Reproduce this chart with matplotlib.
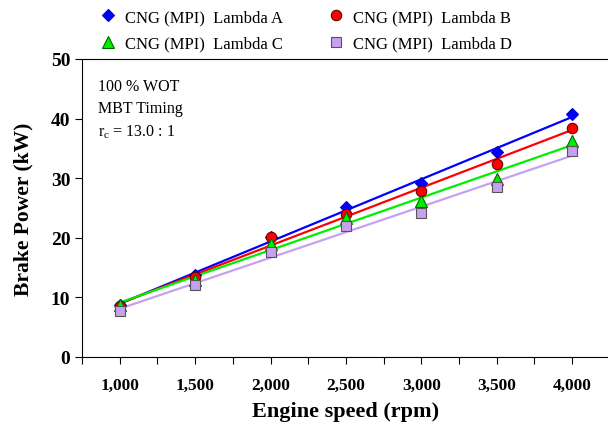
#importando bibliotecas
import matplotlib.pyplot as plt
import numpy as np
from matplotlib.ticker import MultipleLocator

plt.rcParams['font.family'] = ['Liberation Serif', 'DejaVu Serif']

#dados
rotacao = [1000, 1500, 2000, 2500, 3000, 3500, 4000]
lambdaA = [8.7, 13.8, 20.2, 25.2, 29.2, 34.4, 40.7]
lambdaB = [8.5, 13.4, 20.1, 24.0, 27.9, 32.4, 38.5]
lambdaC = [8.8, 13.0, 19.0, 23.3, 26.2, 29.9, 36.2]
lambdaD = [7.8, 12.0, 17.6, 22.0, 24.1, 28.6, 34.5]
rotulosx = ['1,000', '1,500', '2,000', '2,500', '3,000', '3,500', '4,000']
nomes = ['CNG (MPI)  Lambda A', 'CNG (MPI)  Lambda B', 'CNG (MPI)  Lambda C', 'CNG (MPI)  Lambda D']

series = [lambdaA, lambdaB, lambdaC, lambdaD]
cores = ['#0000ff', '#ff0000', '#00ee00', '#c8a0f0']
bordas = ['#0000cc', '#660000', '#006600', '#555555']
marcadores = ['D', 'o', '^', 's']
tamanhos = [6.5, 7.5, 8, 7.5]

fig = plt.figure(figsize=(6.08, 4.27), dpi=100)
ax = fig.add_axes([0.135, 0.1616, 0.868, 0.698])

x = np.array(rotacao)
handles = []
for y, cor, borda, mk, tam, nome in zip(series, cores, bordas, marcadores, tamanhos, nomes):
    #linha de tendencia linear
    a, b = np.polyfit(x, y, 1)
    ax.plot(x, a*x + b, color=cor, lw=1.6, zorder=2)
    h, = ax.plot(x, y, ls='none', marker=mk, ms=tam, color=cor, mec=borda, mew=0.8,
                 label=nome, zorder=3)
    handles.append(h)

ax.set_xlim(750, 4250)
ax.set_ylim(0, 50)
ax.set_xticks(rotacao)
ax.set_xticklabels(rotulosx, fontweight='bold', fontsize=12.5)
ax.xaxis.set_minor_locator(MultipleLocator(250))
ax.set_yticks(np.arange(0, 51, 10))
ax.set_yticklabels([str(v) for v in range(0, 51, 10)], fontweight='bold', fontsize=14)
ax.tick_params(which='both', direction='out', length=5, width=0.8)
ax.tick_params(axis='x', pad=9)

ax.set_xlabel('Engine speed (rpm)', fontweight='bold', fontsize=16, labelpad=6)
ax.set_ylabel('Brake Power (kW)', fontweight='bold', fontsize=15.5, labelpad=12)

ax.text(0.03, 0.935, '100 % WOT\nMBT Timing\n$\\mathregular{r_c}$ = 13.0 : 1', transform=ax.transAxes,
        fontsize=11.5, va='top', ha='left', linespacing=1.5)

#legenda em linhas: A B / C D
ordem = [0, 2, 1, 3]
fig.legend([handles[i] for i in ordem], [nomes[i] for i in ordem],
           loc='upper left', bbox_to_anchor=(0.145, 1.0), ncol=2, frameon=False,
           fontsize=12, handletextpad=0.4, columnspacing=2.6, labelspacing=0.65,
           handlelength=1.2, borderaxespad=0.2)

fig.savefig('out.png', dpi=100)
